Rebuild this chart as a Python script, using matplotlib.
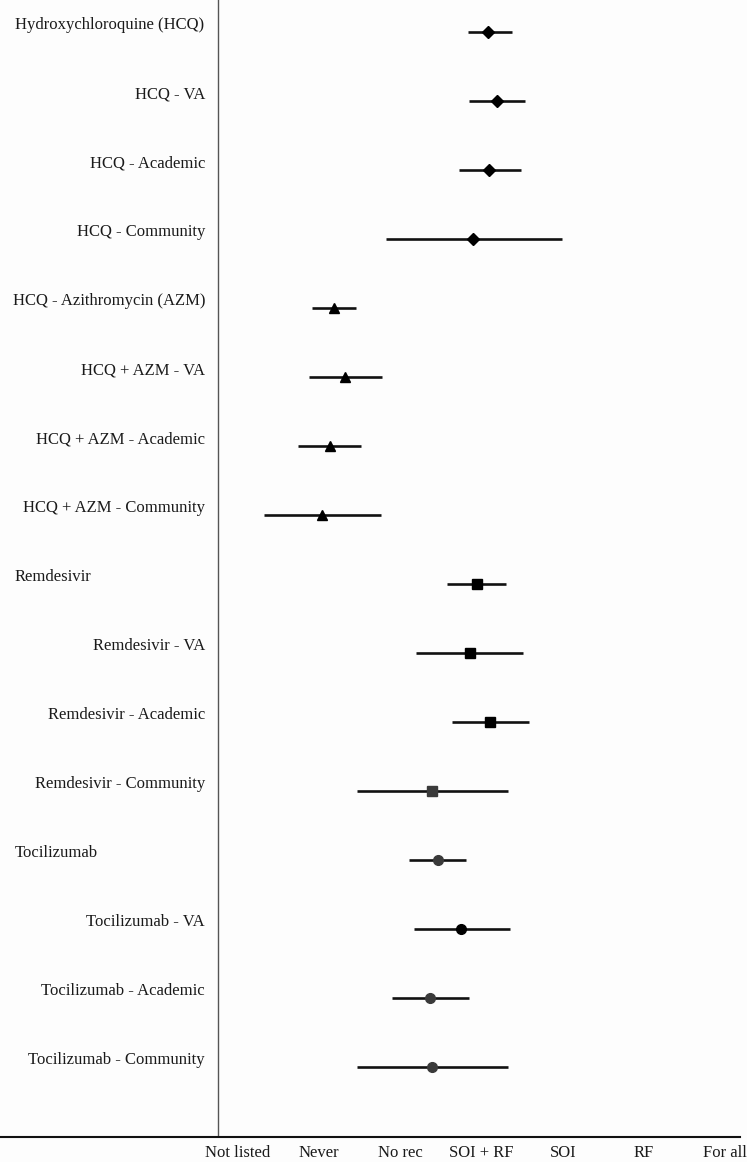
import matplotlib.pyplot as plt

# =========================
# DATA
# =========================

labels = [
    "Hydroxychloroquine (HCQ)",
    "HCQ - VA",
    "HCQ - Academic",
    "HCQ - Community",
    "HCQ - Azithromycin (AZM)",
    "HCQ + AZM - VA",
    "HCQ + AZM - Academic",
    "HCQ + AZM - Community",
    "Remdesivir",
    "Remdesivir - VA",
    "Remdesivir - Academic",
    "Remdesivir - Community",
    "Tocilizumab",
    "Tocilizumab - VA",
    "Tocilizumab - Academic",
    "Tocilizumab - Community",
]

# header rows are left aligned, sub rows right aligned
is_header = [True, False, False, False, False, False, False, False,
             True, False, False, False, True, False, False, False]

estimate = [3.08, 3.19, 3.09, 2.89, 1.18, 1.32, 1.13, 1.03,
            2.94, 2.86, 3.10, 2.39, 2.46, 2.75, 2.37, 2.39]
ci_low = [2.83, 2.85, 2.72, 1.82, 0.91, 0.87, 0.74, 0.32,
          2.57, 2.19, 2.64, 1.47, 2.11, 2.17, 1.90, 1.47]
ci_high = [3.37, 3.54, 3.48, 3.99, 1.45, 1.77, 1.52, 1.76,
           3.30, 3.51, 3.58, 3.33, 2.81, 3.35, 2.85, 3.33]

markers = ["D"] * 4 + ["^"] * 4 + ["s"] * 4 + ["o"] * 4
marker_colors = ["#000000"] * 11 + ["#3a3a3a", "#3a3a3a", "#000000",
                                    "#3a3a3a", "#3a3a3a"]

tick_labels = ["Not listed", "Never", "No rec", "SOI + RF", "SOI", "RF", "For all"]

# =========================
# FIGURE
# =========================

W, H = 747, 1162
fig = plt.figure(figsize=(W / 100, H / 100), dpi=100)
fig.patch.set_facecolor("#fdfdfd")

plt.rcParams["font.family"] = ["Liberation Serif", "DejaVu Serif"]

ax = fig.add_axes([0, 1 - 1137 / H, 740 / W, 1137 / H])
ax.set_facecolor("#fdfdfd")

px_per_unit = 81.2
x0 = 238
ax.set_xlim((0 - x0) / px_per_unit, (740 - x0) / px_per_unit)
row_px = 69
ax.set_ylim((1137 - 32) / row_px, -32 / row_px)

for i in range(len(labels)):
    ax.plot([ci_low[i], ci_high[i]], [i, i], color="#111111", lw=1.9,
            solid_capstyle="butt", zorder=2)
    ms = {"D": 6, "^": 7.5, "s": 7, "o": 7}[markers[i]]
    ax.plot(estimate[i], i, marker=markers[i], color=marker_colors[i],
            markersize=ms, linestyle="none", zorder=3)

    if is_header[i]:
        ax.text((15 - x0) / px_per_unit, i - 0.1, labels[i], ha="left",
                va="center", fontsize=12, color="#1a1a1a")
    else:
        ax.text((205 - x0) / px_per_unit, i - 0.1, labels[i], ha="right",
                va="center", fontsize=12, color="#1a1a1a")

# vertical separator
ax.axvline((218 - x0) / px_per_unit, color="#555555", lw=1.0)

for side in ["top", "right", "left"]:
    ax.spines[side].set_visible(False)
ax.spines["bottom"].set_linewidth(1.5)
ax.spines["bottom"].set_color("#111111")

ax.set_yticks([])
ax.set_xticks(range(len(tick_labels)))
ax.set_xticklabels(tick_labels, fontsize=12, color="#1a1a1a")
ax.tick_params(axis="x", length=0, pad=6)

fig.savefig("out.png", dpi=100, facecolor=fig.get_facecolor())
